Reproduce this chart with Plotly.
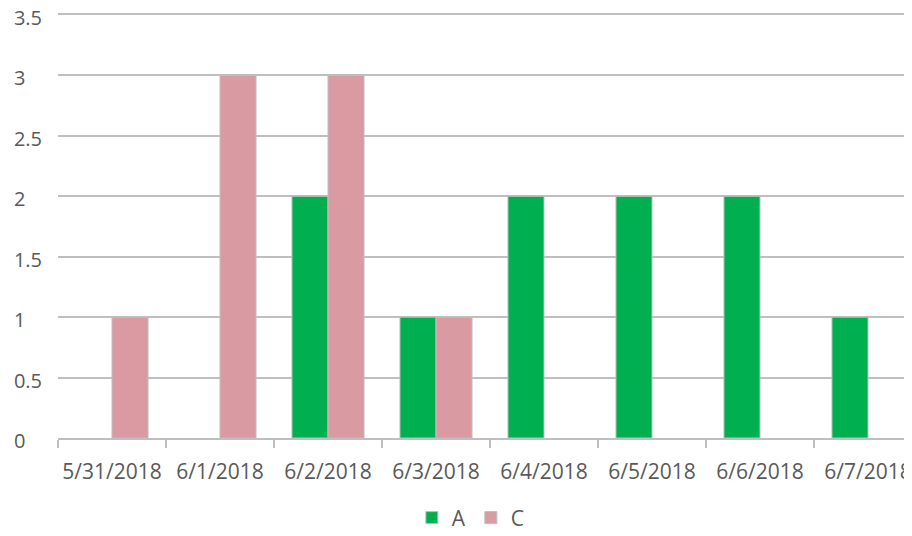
import plotly.graph_objects as go


def create_chart(dates, series):
    # Initialize figure
    fig = go.Figure()

    # ------ Bars ------
    colors = {'A': '#00B050', 'C': '#DA9AA2'}
    for name, values in series.items():
        fig.add_trace(
            go.Bar(name=name,
                   x=dates,
                   y=values,
                   marker=dict(color=colors[name], line=dict(color='#BFBFBF', width=1))
                   ))
    # ------------------

    # ---- Update Layout ----
    font_size = 21
    y_ticks = [0, 0.5, 1, 1.5, 2, 2.5, 3, 3.5]
    y_text = ['0\u2008\u2007', '0.5', '1\u2008\u2007', '1.5',
              '2\u2008\u2007', '2.5', '3\u2008\u2007', '3.5']  # Padded so labels sit left-aligned

    fig.update_layout(

        width=896,  # The page body adds an 8px margin on each side
        height=520,

        paper_bgcolor='#ffffff',  # Sets the background color for the whole chart
        plot_bgcolor='#ffffff',

        font=dict(family="Open Sans", size=font_size, color="#595959"),
        barmode='group',
        bargap=0.333,
        bargroupgap=0,

        xaxis=dict(
            type='category',
            automargin=False,
            range=[-0.5, 7.5 - 18 / 108],  # Last category runs past the right edge
            showgrid=False,
            showline=True,
            mirror=True,  # Top line stands in for the 3.5 gridline
            linecolor='#BFBFBF',
            linewidth=2,
            ticks='outside',
            tickson='boundaries',
            ticklen=8,
            tickwidth=2,
            tickcolor='#BFBFBF',
            tickangle=0,
            ticklabelstandoff=14,
            ticklabeloverflow='allow',
            tickfont=dict(family='Open Sans', size=font_size, color='#595959'),
        ),

        yaxis=dict(
            automargin=False,
            range=[0, 3.5],
            tickmode='array',
            tickvals=y_ticks,
            ticktext=y_text,
            ticklabeloverflow='allow',
            ticklabelshift=3,
            showgrid=True,
            gridcolor='#BFBFBF',
            gridwidth=2,
            zeroline=False,
            showline=False,
            ticklabelstandoff=15,
            tickfont=dict(family='Open Sans', size=20, color='#595959'),
        ),

        margin=dict(l=50, r=0, t=7, b=90, autoexpand=False),  # Legend must not push the margins

        legend_orientation='h',  # Legend orientation vertical / horizontal
        legend=dict(  # Sets legend location within the paper area
            x=0.488,
            y=-0.189,
            xanchor='center',
            yanchor='middle',
            font=dict(family='Open Sans', size=font_size, color='#595959')
        ),
    )

    return fig


dates = ['5/31/2018', '6/1/2018', '6/2/2018', '6/3/2018',
         '6/4/2018', '6/5/2018', '6/6/2018', '6/7/2018']
series = {
    'A': [None, None, 2, 1, 2, 2, 2, 1],
    'C': [1, 3, 3, 1, None, None, None, None],
}

fig = create_chart(dates, series)
fig.write_html("out.html")
